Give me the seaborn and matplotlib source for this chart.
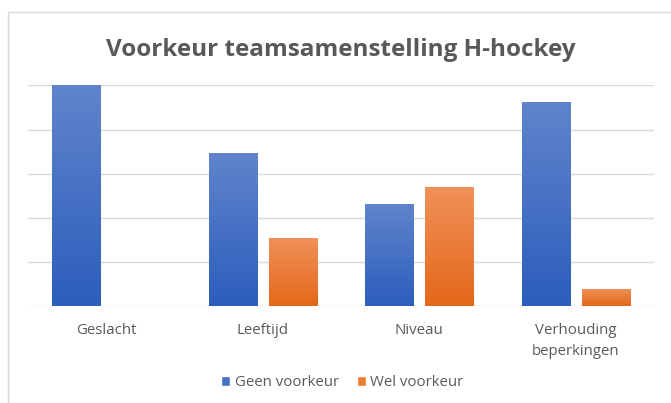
import numpy as np
import matplotlib
matplotlib.use('Agg')
import matplotlib.pyplot as plt
from matplotlib.lines import Line2D
from matplotlib.patches import Patch
import matplotlib.colors as mcolors
import pandas as pd
import seaborn as sns

# data (percentages, 13 respondents)
categories = ['Geslacht', 'Leeftijd', 'Niveau', 'Verhouding\nbeperkingen']
geen_voorkeur = [100.0, 69.2, 46.2, 92.3]
wel_voorkeur = [0.0, 30.8, 53.8, 7.7]
series = ['Geen voorkeur', 'Wel voorkeur']

df = pd.DataFrame({
    'Categorie': categories * 2,
    'Waarde': geen_voorkeur + wel_voorkeur,
    'Serie': [series[0]] * len(categories) + [series[1]] * len(categories),
})

blue = '#4472c4'
orange = '#ed7d31'
grad = {
    blue: ('#6084cc', '#2c5ebc'),
    orange: ('#f19159', '#e4681a'),
}
text_col = '#595959'

sns.set_style('white')
plt.rcParams['font.family'] = ['Open Sans', 'DejaVu Sans']

fig = plt.figure(figsize=(6.71, 4.03), dpi=100)
ax = fig.add_axes([0.0421, 0.240, 0.9326, 0.5483])

sns.barplot(data=df, x='Categorie', y='Waarde', hue='Serie', order=categories,
            hue_order=series, palette=[blue, orange], saturation=1, width=0.767,
            gap=0.19, ax=ax, legend=False)

ax.set_yticks(np.arange(0, 101, 20))
ax.set_yticklabels([])
ax.yaxis.grid(True, color='#D9D9D9', linewidth=1.0)
ax.set_axisbelow(True)
for s in ax.spines.values():
    s.set_visible(False)
ax.tick_params(axis='both', length=0)
ax.tick_params(axis='x', labelsize=10.8, labelcolor=text_col, pad=12)
for lab in ax.get_xticklabels():
    lab.set_linespacing(1.55)
ax.set_xlabel('')
ax.set_ylabel('')

# gradient fill for bars (light at top, darker at bottom)
for bar in list(ax.patches):
    h = bar.get_height()
    if h <= 0:
        bar.set_visible(False)
        continue
    fc = mcolors.to_hex(bar.get_facecolor())
    top, bottom = grad.get(fc, (fc, fc))
    cmap = mcolors.LinearSegmentedColormap.from_list('g', [bottom, top])
    x0 = bar.get_x()
    w = bar.get_width()
    img = ax.imshow(np.linspace(0, 1, 100).reshape(-1, 1), cmap=cmap, aspect='auto',
                    origin='lower', extent=[x0, x0 + w, 0, h], zorder=bar.get_zorder() + 0.1)
    img.set_clip_path(bar)
    bar.set_edgecolor('none')
ax.set_xlim(-0.5, len(categories) - 0.5)
ax.set_ylim(0, 100)

fig.suptitle('Voorkeur teamsamenstelling H-hockey', x=0.508, y=0.905, fontsize=17.5,
             fontweight='bold', color=text_col)

handles = [Patch(facecolor=blue, label=series[0]), Patch(facecolor=orange, label=series[1])]
leg = fig.legend(handles=handles, loc='center', bbox_to_anchor=(0.51, 0.05), ncol=2,
                 frameon=False, fontsize=10.8, handlelength=0.6, handleheight=0.6,
                 handletextpad=0.3, columnspacing=1.2)
for t in leg.get_texts():
    t.set_color(text_col)

# chart border (left and top edges visible in the screenshot)
fig.add_artist(Line2D([8 / 671, 8 / 671], [0, 1 - 12 / 403], color='#D9D9D9', lw=1))
fig.add_artist(Line2D([8 / 671, 1], [1 - 12 / 403, 1 - 12 / 403], color='#D9D9D9', lw=1))

fig.savefig('out.png', dpi=100)
